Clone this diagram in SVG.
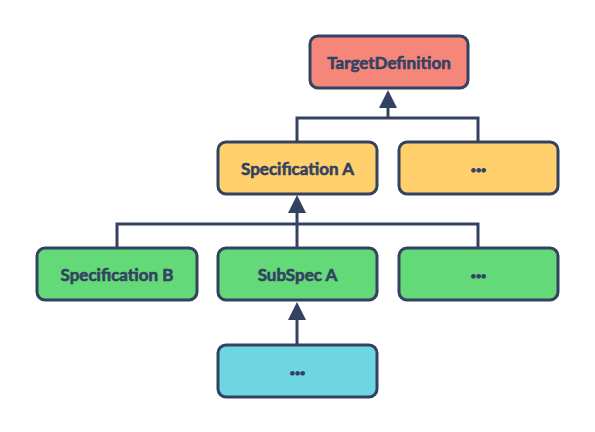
<svg xmlns="http://www.w3.org/2000/svg" width="595" height="432" viewBox="0 0 595 432">
<style>
.n rect{stroke:#344262;stroke-width:3}
.n text{font-family:Lato,"Open Sans",sans-serif;font-weight:bold;font-size:17px;fill:#344262;stroke:#344262;stroke-width:0.6;text-anchor:middle;dominant-baseline:central}
.n text.d{font-size:22px;stroke-width:1.2}
.c path{fill:none;stroke:#344262;stroke-width:3}
.c path.h{fill:#344262;stroke:none}
</style>
<g class="c">
<path d="M297,142 V118 H478 V142"/>
<path d="M388,118 V100"/>
<path class="h" d="M388,90 L379,108 L397,108 Z"/>
<path d="M117,248 V224 H478 V248"/>
<path d="M297,248 V205"/>
<path class="h" d="M297,195 L288,213 L306,213 Z"/>
<path d="M297,344 V312"/>
<path class="h" d="M297,302 L288,320 L306,320 Z"/>
</g>
<g id="target" class="n"><rect x="310" y="36" width="158" height="52" rx="8" fill="#F5877A"/><text x="389" y="62">TargetDefinition</text></g>
<g id="specA" class="n"><rect x="218" y="142" width="159" height="52" rx="8" fill="#FFD06B"/><text x="297.5" y="168">Specification A</text></g>
<g id="yellowMore" class="n"><rect x="399" y="142" width="159" height="52" rx="8" fill="#FFD06B"/><text class="d" x="478.5" y="163">...</text></g>
<g id="specB" class="n"><rect x="37" y="248" width="160" height="52" rx="8" fill="#63D977"/><text x="117" y="274">Specification B</text></g>
<g id="subSpecA" class="n"><rect x="218" y="248" width="159" height="52" rx="8" fill="#63D977"/><text x="297.5" y="274">SubSpec A</text></g>
<g id="greenMore" class="n"><rect x="399" y="248" width="159" height="52" rx="8" fill="#63D977"/><text class="d" x="478.5" y="269">...</text></g>
<g id="cyanMore" class="n"><rect x="218" y="345" width="159" height="52" rx="8" fill="#6DD6E0"/><text class="d" x="297.5" y="366">...</text></g>
</svg>
